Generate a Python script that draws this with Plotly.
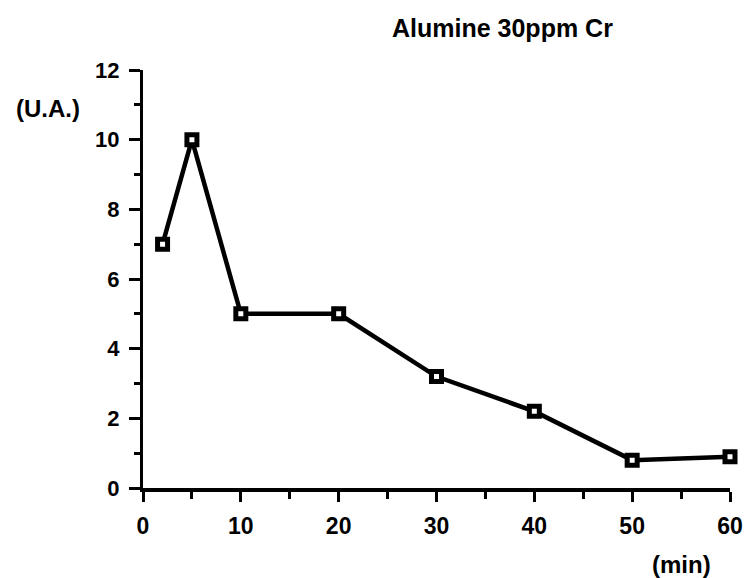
import plotly.graph_objects as go

time_min = [2, 5, 10, 20, 30, 40, 50, 60]
intensity_ua = [7, 10, 5, 5, 3.2, 2.2, 0.8, 0.9]
x_ticks = [0, 10, 20, 30, 40, 50, 60]
y_ticks = [0, 2, 4, 6, 8, 10, 12]

FONT = "Liberation Sans, Arial, sans-serif"

fig = go.Figure()
fig.add_trace(go.Scatter(
    x=time_min, y=intensity_ua, mode="lines+markers",
    line=dict(color="black", width=4.5),
    marker=dict(symbol="square", size=10, color="white",
                line=dict(color="black", width=5)),
    cliponaxis=False, showlegend=False,
))

# page body has an 8px margin, so the figure is drawn 8px smaller
fig.update_layout(
    width=747, height=570,
    margin=dict(l=135, r=18, t=62, b=90),
    paper_bgcolor="white", plot_bgcolor="white",
    font=dict(family=FONT, color="black"),
    xaxis=dict(range=[0, 60], tickvals=x_ticks, showgrid=False, zeroline=False,
               showline=True, linecolor="black", linewidth=4,
               ticks="outside", ticklen=10, tickwidth=3, tickcolor="black",
               tickfont=dict(size=23, weight="bold", family=FONT),
               ticklabelstandoff=4,
               minor=dict(dtick=5, ticks="outside", ticklen=7, tickwidth=3, tickcolor="black")),
    yaxis=dict(range=[0, 12], tickvals=y_ticks, showgrid=False, zeroline=False,
               showline=True, linecolor="black", linewidth=3,
               ticks="outside", ticklen=11, tickwidth=3, tickcolor="black",
               tickfont=dict(size=22, weight="bold", family=FONT),
               ticklabelstandoff=5,
               minor=dict(dtick=1, ticks="outside", ticklen=6, tickwidth=3, tickcolor="black")),
    annotations=[
        dict(text="<b>Alumine 30ppm Cr</b>", x=0.613, y=1.100, xref="paper", yref="paper",
             showarrow=False, font=dict(size=25, family=FONT), xanchor="center", yanchor="middle"),
        dict(text="<b>(U.A.)</b>", x=-0.162, y=0.909, xref="paper", yref="paper",
             showarrow=False, font=dict(size=24, family=FONT), xanchor="center", yanchor="middle"),
        dict(text="<b>(min)</b>", x=0.918, y=-0.182, xref="paper", yref="paper",
             showarrow=False, font=dict(size=24, family=FONT), xanchor="center", yanchor="middle"),
    ],
)

fig.write_html("out.html")
